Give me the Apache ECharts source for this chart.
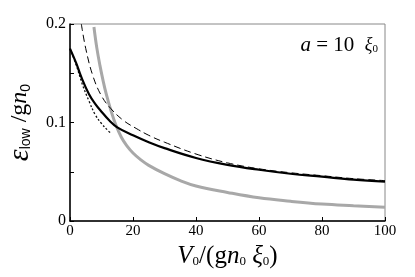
<!DOCTYPE html>
<html>
<head>
<meta charset="utf-8">
<script src="https://cdn.jsdelivr.net/npm/echarts@6/dist/echarts.min.js"></script>
<style>html,body{margin:0;padding:0;background:#fff}#c{width:415px;height:277px}</style>
</head>
<body>
<div id="c"></div>
<script>
// Data
var xTicks = [0, 20, 40, 60, 80, 100];
var yTickLabels = ['0', '0.1', '0.2'];
var blackV = [0, 2, 3.6, 6, 8, 10, 12.5, 15, 20, 25, 30, 40, 50, 60, 70, 80, 90, 100];
var blackE = [0.175, 0.160, 0.146, 0.129, 0.119, 0.111, 0.102, 0.095, 0.087, 0.080, 0.074, 0.064, 0.057, 0.052, 0.048, 0.045, 0.042, 0.040];
var dashV = [3.6, 5, 7.3, 10, 13, 17, 21, 25, 30, 40, 50, 60, 70, 80, 90, 100];
var dashE = [0.200, 0.175, 0.147, 0.127, 0.114, 0.102, 0.094, 0.087, 0.080, 0.068, 0.059, 0.053, 0.049, 0.046, 0.043, 0.041];
var grayV = [7.6, 8.5, 9.5, 10.5, 11.5, 13, 14.5, 16.3, 18, 20, 22.5, 25, 30, 35, 40, 50, 60, 70, 80, 90, 100];
var grayE = [0.197, 0.176, 0.158, 0.1425, 0.129, 0.112, 0.098, 0.085, 0.0765, 0.069, 0.062, 0.0565, 0.048, 0.041, 0.0355, 0.029, 0.0235, 0.020, 0.0172, 0.0155, 0.014];
var dotV = [0, 2, 4, 6, 8, 10, 12, 13];
var dotE = [0.175, 0.158, 0.138, 0.122, 0.108, 0.099, 0.092, 0.089];

function pairs(xs, ys) { return xs.map(function (x, i) { return [x, ys[i]]; }); }

var serif = 'Liberation Serif';
var chart = echarts.init(document.getElementById('c'), null, { renderer: 'canvas' });
chart.setOption({
  animation: false,
  backgroundColor: '#fff',
  grid: { left: 70, top: 24, right: 30, bottom: 56, show: true, borderColor: '#888', borderWidth: 1,
    backgroundColor: 'transparent', containLabel: false, outerBoundsMode: 'none' },
  xAxis: {
    type: 'value', min: 0, max: 100, interval: 20,
    axisLine: { show: true, onZero: false, lineStyle: { color: '#000', width: 1.5 } },
    axisTick: { show: true, inside: true, length: 4, lineStyle: { color: '#000' } },
    splitLine: { show: false },
    axisLabel: { color: '#000', fontFamily: serif, fontSize: 15, margin: 3,
      formatter: function (v) { return xTicks.indexOf(v) >= 0 ? String(v) : ''; } },
    name: '{v|V}{s|0}{t|/(g}{n|n}{s|0}{t| }{n|ξ}{s|0}{t|)}',
    nameLocation: 'middle', nameGap: 17,
    nameTextStyle: {
      rich: {
        v: { fontFamily: serif, fontStyle: 'italic', fontSize: 25, color: '#000' },
        n: { fontFamily: serif, fontStyle: 'italic', fontSize: 25, color: '#000' },
        t: { fontFamily: serif, fontSize: 25, color: '#000' },
        s: { fontFamily: serif, fontSize: 13, color: '#000', padding: [10, 0, 0, 0] }
      }
    }
  },
  yAxis: {
    type: 'value', min: 0, max: 0.2, interval: 0.05,
    axisLine: { show: true, onZero: false, lineStyle: { color: '#000', width: 1.5 } },
    axisTick: { show: true, inside: true, length: 4, lineStyle: { color: '#000' } },
    splitLine: { show: false },
    axisLabel: { color: '#000', fontFamily: serif, fontSize: 16, margin: 4,
      formatter: function (v) {
        var s = String(Math.round(v * 100) / 100);
        return yTickLabels.indexOf(s) >= 0 ? s : '';
      } },
    name: '{e|ε}{s|low}{t| /g}{n|n}{s|0}',
    nameLocation: 'middle', nameGap: 25, nameRotate: 90,
    nameTextStyle: {
      rich: {
        e: { fontFamily: serif, fontStyle: 'italic', fontSize: 30, color: '#000' },
        n: { fontFamily: serif, fontStyle: 'italic', fontSize: 24, color: '#000' },
        t: { fontFamily: serif, fontSize: 24, color: '#000' },
        s: { fontFamily: 'Liberation Sans', fontSize: 14, color: '#000', padding: [12, 0, 0, 0] }
      }
    }
  },
  series: [
    { type: 'line', data: pairs(grayV, grayE), smooth: 0.4, symbol: 'none', clip: true,
      lineStyle: { color: '#a8a8a8', width: 3 } },
    { type: 'line', data: pairs(dotV, dotE), smooth: 0.4, symbol: 'none', clip: true,
      lineStyle: { color: '#111', width: 1.3, type: [2, 2] } },
    { type: 'line', data: pairs(dashV, dashE), smooth: 0.4, symbol: 'none', clip: true,
      lineStyle: { color: '#000', width: 1, type: [7, 4] } },
    { type: 'line', data: pairs(blackV, blackE), smooth: 0.4, symbol: 'none', clip: true,
      lineStyle: { color: '#000', width: 2.2 } }
  ],
  graphic: [{
    type: 'text', right: 37, top: 35,
    style: {
      text: '{a|a}{t| = 10  }{x|ξ}{s|0}',
      rich: {
        a: { fontFamily: serif, fontStyle: 'italic', fontSize: 21, fill: '#000' },
        t: { fontFamily: serif, fontSize: 21, fill: '#000' },
        x: { fontFamily: serif, fontStyle: 'italic', fontSize: 18, fill: '#000' },
        s: { fontFamily: serif, fontSize: 11, fill: '#000', padding: [8, 0, 0, 0] }
      }
    }
  }]
});
</script>
</body>
</html>
